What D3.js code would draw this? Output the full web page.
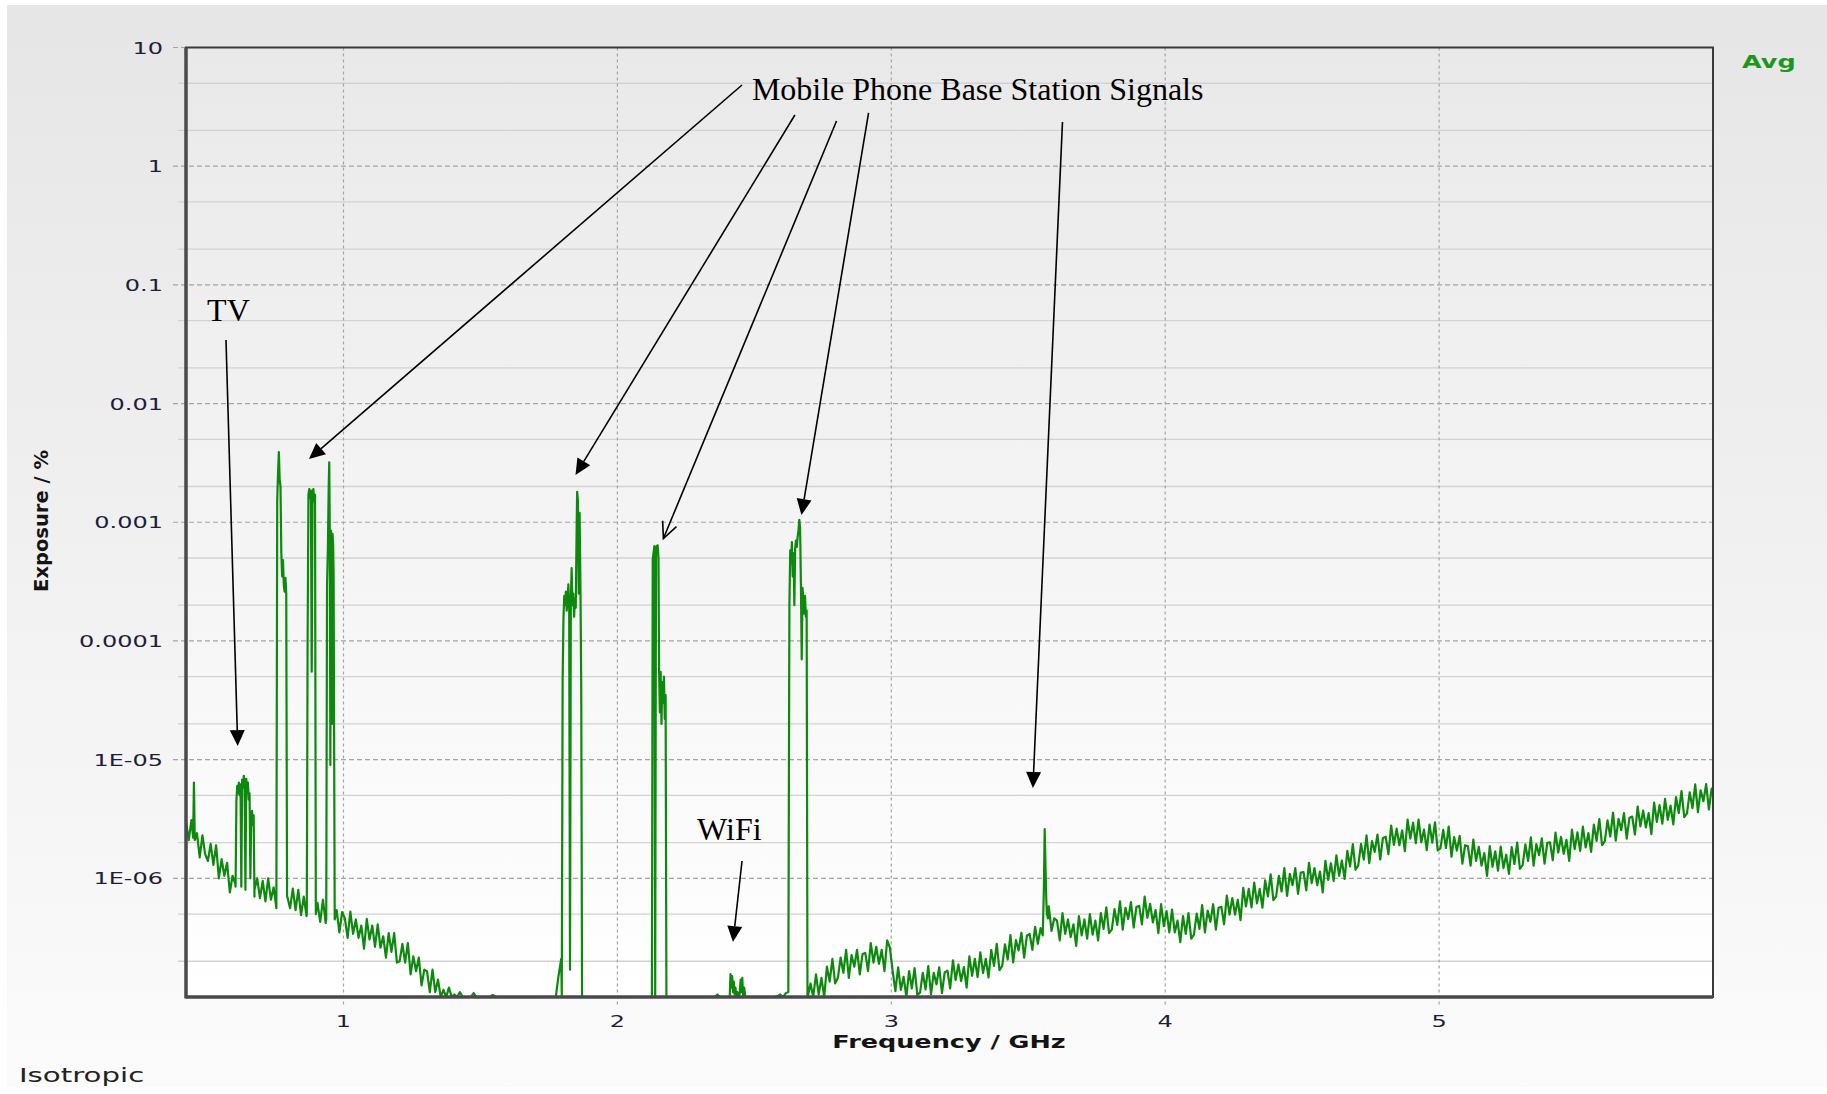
<!DOCTYPE html>
<meta charset="utf-8">
<head>
    <style>
        body { margin: 0; background-color: #ffffff; }
        svg { display: block; }
        .tick-label { font-family: "DejaVu Sans", Verdana, sans-serif; font-size: 16px; fill: #1f1d3a; }
        .axis-title { font-family: "DejaVu Sans", Verdana, sans-serif; font-weight: bold; fill: #141414; }
        .note { font-family: "Liberation Serif", "Times New Roman", serif; font-size: 32px; fill: #000; }
    </style>
    <script src="https://d3js.org/d3.v7.min.js"></script>
</head>
<body>
<div id="chart"></div>
<script>
// meter sweep: start / step in GHz, one averaged reading per step (exposure in %)
var sweepStartGHz = 0.425,
    sweepStepGHz = 0.01;

var sweepExposure = [
    3.0e-6, 2.1e-6, 3.1e-6, 2.0e-6, 2.4e-6, 1.5e-6, 2.3e-6, 1.6e-6,
    1.4e-6, 1.95e-6, 1.3e-6, 1.9e-6, 1.0e-6, 1.45e-6, 1.05e-6, 1.35e-6, 7.6e-7, 1.05e-6,
    9.0e-7, 8e-7, 8e-7, 8e-7, 8e-7, 8e-7, 8e-7, 7.0e-7, 1.0e-6, 6.8e-7,
    9.5e-7, 6.4e-7, 1.0e-6, 6.6e-7, 8.4e-7, 5.6e-7, 7e-7, 7e-7, 7e-7, 7e-7,
    5.6e-7, 8.2e-7, 5.4e-7, 8.0e-7, 4.9e-7, 7.0e-7, 4.8e-7, 5.5e-7, 5.5e-7, 5.5e-7,
    6.2e-7, 4.3e-7, 6.6e-7, 4.2e-7, 4.5e-7, 4.5e-7, 4.5e-7, 5.4e-7, 3.5e-7, 5.2e-7,
    4.6e-7, 3.15e-7, 5.25e-7, 3.4e-7, 4.5e-7, 3.15e-7, 4.0e-7, 2.55e-7, 4.55e-7, 3.05e-7,
    4.0e-7, 2.65e-7, 4.1e-7, 2.6e-7, 3.25e-7, 2.15e-7, 3.45e-7, 2.4e-7, 3.45e-7, 1.95e-7,
    2.0e-7, 2.8e-7, 1.95e-7, 2.85e-7, 1.55e-7, 2.2e-7, 1.65e-7, 2.15e-7, 1.25e-7, 1.7e-7,
    1.65e-7, 1.1e-7, 1.7e-7, 1.1e-7, 1.4e-7, 9.3e-8, 1.15e-7, 7e-8, 1.2e-7, 8e-8,
    1.05e-7, 8e-8, 1.1e-7, 8e-8, 9e-8, 8e-8, 8e-8, 1.08e-7, 8e-8, 8e-8,
    8e-8, 8e-8, 8e-8, 8e-8, 1.04e-7, 8e-8, 8e-8, 8e-8, 8e-8, 8e-8,
    8e-8, 8e-8, 8e-8, 8e-8, 8e-8, 8e-8, 8e-8, 8e-8, 8e-8, 8e-8,
    8e-8, 8e-8, 8e-8, 8e-8, 8e-8, 8e-8, 8e-8, 8e-8, 1.5e-7, 2.1e-7,
    8e-8, 8e-8, 8e-8, 8e-8, 8e-8, 8e-8, 8e-8, 8e-8, 8e-8, 8e-8,
    8e-8, 8e-8, 8e-8, 8e-8, 8e-8, 8e-8, 8e-8, 8e-8, 8e-8, 8e-8,
    8e-8, 8e-8, 8e-8, 8e-8, 8e-8, 8e-8, 8e-8, 8e-8, 8e-8, 8e-8,
    8e-8, 8e-8, 8e-8, 8e-8, 8e-8, 8e-8, 8e-8, 8e-8, 8e-8, 8e-8,
    8e-8, 8e-8, 8e-8, 8e-8, 8e-8, 8e-8, 8e-8, 8e-8, 8e-8, 8e-8,
    8e-8, 8e-8, 8e-8, 8e-8, 8e-8, 8e-8, 1.05e-7, 8e-8, 8e-8, 8e-8,
    8e-8, 8e-8, 8e-8, 8e-8, 8e-8, 8e-8, 8e-8, 8e-8, 8e-8, 8e-8,
    8e-8, 8e-8, 8e-8, 8e-8, 8e-8, 8e-8, 8e-8, 8e-8, 1.02e-7, 1.05e-7,
    1.0e-7, 1.08e-7, 1.12e-7, 1.0e-7, 1.0e-7, 1.0e-7, 1.0e-7, 1.0e-7, 1.0e-7, 1.0e-7,
    1.3e-7, 9.5e-8, 1.55e-7, 1.05e-7, 1.45e-7, 1.0e-7, 1.8e-7, 1.35e-7, 2.1e-7, 1.3e-7,
    1.45e-7, 2.15e-7, 1.6e-7, 2.5e-7, 1.45e-7, 2.25e-7, 1.8e-7, 2.5e-7, 1.55e-7, 2.3e-7,
    2.35e-7, 1.65e-7, 2.85e-7, 1.95e-7, 2.65e-7, 1.9e-7, 2.5e-7, 1.65e-7, 3.0e-7, 2.6e-7,
    1.65e-7, 1.12e-7, 1.78e-7, 1.15e-7, 1.48e-7, 1.0e-7, 1.65e-7, 1.18e-7, 1.75e-7, 1.04e-7,
    1.09e-7, 1.6e-7, 1.16e-7, 1.82e-7, 1.05e-7, 1.6e-7, 1.28e-7, 1.78e-7, 1.08e-7, 1.61e-7,
    1.67e-7, 1.18e-7, 2.04e-7, 1.39e-7, 1.88e-7, 1.36e-7, 1.79e-7, 1.2e-7, 2.2e-7, 1.51e-7,
    2.1e-7, 1.47e-7, 2.38e-7, 1.59e-7, 2.1e-7, 1.46e-7, 2.49e-7, 1.83e-7, 2.8e-7, 1.68e-7,
    1.83e-7, 2.78e-7, 2.07e-7, 3.33e-7, 1.96e-7, 3.02e-7, 2.47e-7, 3.48e-7, 2.15e-7, 3.28e-7,
    3.4e-7, 2.5e-7, 3.9e-7, 2.8e-7, 3.8e-7, 3.3e-7, 3.3e-7, 5.8e-7, 3.6e-7, 4.6e-7,
    4.4e-7, 3.0e-7, 5.1e-7, 3.4e-7, 4.5e-7, 3.2e-7, 4.1e-7, 2.7e-7, 4.8e-7, 3.3e-7,
    4.5e-7, 3.1e-7, 5.0e-7, 3.35e-7, 4.4e-7, 3.0e-7, 5.1e-7, 3.75e-7, 5.7e-7, 3.45e-7,
    3.7e-7, 5.5e-7, 4.05e-7, 6.4e-7, 3.7e-7, 5.65e-7, 4.55e-7, 6.3e-7, 3.85e-7, 5.75e-7,
    5.85e-7, 4.1e-7, 7.0e-7, 4.65e-7, 6.1e-7, 4.25e-7, 5.4e-7, 3.45e-7, 6.05e-7, 3.95e-7,
    5.3e-7, 3.5e-7, 5.45e-7, 3.5e-7, 4.4e-7, 2.9e-7, 4.8e-7, 3.4e-7, 5.1e-7, 3.1e-7,
    3.35e-7, 5.05e-7, 3.75e-7, 5.95e-7, 3.5e-7, 5.35e-7, 4.3e-7, 6.05e-7, 3.7e-7, 5.65e-7,
    5.75e-7, 4.1e-7, 7.15e-7, 4.95e-7, 6.8e-7, 4.95e-7, 6.6e-7, 4.45e-7, 8.3e-7, 5.8e-7,
    8.15e-7, 5.7e-7, 9.2e-7, 6.15e-7, 8.15e-7, 5.65e-7, 9.6e-7, 7.05e-7, 1.08e-6, 6.55e-7,
    7.05e-7, 1.05e-6, 7.75e-7, 1.22e-6, 7.1e-7, 1.09e-6, 8.75e-7, 1.22e-6, 7.4e-7, 1.12e-6,
    1.13e-6, 7.9e-7, 1.35e-6, 9.1e-7, 1.22e-6, 8.75e-7, 1.14e-6, 7.6e-7, 1.4e-6, 9.7e-7,
    1.34e-6, 9.5e-7, 1.56e-6, 1.05e-6, 1.41e-6, 9.9e-7, 1.7e-6, 1.26e-6, 1.94e-6, 1.18e-6,
    1.29e-6, 1.95e-6, 1.44e-6, 2.3e-6, 1.34e-6, 2.06e-6, 1.67e-6, 2.34e-6, 1.44e-6, 2.19e-6,
    2.24e-6, 1.6e-6, 2.78e-6, 1.91e-6, 2.62e-6, 1.9e-6, 2.53e-6, 1.69e-6, 3.12e-6, 2.16e-6,
    2.94e-6, 1.98e-6, 3.12e-6, 2.01e-6, 2.57e-6, 1.73e-6, 2.84e-6, 2.0e-6, 2.96e-6, 1.72e-6,
    1.79e-6, 2.56e-6, 1.8e-6, 2.73e-6, 1.52e-6, 2.22e-6, 1.71e-6, 2.28e-6, 1.33e-6, 1.9e-6,
    1.86e-6, 1.28e-6, 2.12e-6, 1.4e-6, 1.84e-6, 1.28e-6, 1.63e-6, 1.05e-6, 1.87e-6, 1.25e-6,
    1.69e-6, 1.16e-6, 1.85e-6, 1.22e-6, 1.58e-6, 1.09e-6, 1.83e-6, 1.32e-6, 2.0e-6, 1.2e-6,
    1.29e-6, 1.93e-6, 1.4e-6, 2.21e-6, 1.28e-6, 1.94e-6, 1.57e-6, 2.17e-6, 1.33e-6, 1.99e-6,
    2.01e-6, 1.42e-6, 2.43e-6, 1.65e-6, 2.23e-6, 1.61e-6, 2.11e-6, 1.4e-6, 2.57e-6, 1.76e-6,
    2.44e-6, 1.7e-6, 2.73e-6, 1.82e-6, 2.4e-6, 1.67e-6, 2.83e-6, 2.07e-6, 3.16e-6, 1.9e-6,
    2.06e-6, 3.08e-6, 2.25e-6, 3.57e-6, 2.08e-6, 3.17e-6, 2.55e-6, 3.54e-6, 2.16e-6, 3.24e-6,
    3.31e-6, 2.34e-6, 4.02e-6, 2.74e-6, 3.72e-6, 2.69e-6, 3.54e-6, 2.36e-6, 4.34e-6, 2.99e-6,
    4.14e-6, 2.89e-6, 4.67e-6, 3.11e-6, 4.1e-6, 2.85e-6, 4.84e-6, 3.55e-6, 5.43e-6, 3.28e-6,
    3.53e-6, 5.3e-6, 3.9e-6, 6.19e-6, 3.61e-6, 5.52e-6, 4.46e-6, 6.21e-6, 3.8e-6, 5.69e-6,
    4.6e-6
];

// finer readings across the signal bands (GHz, %)
var tvSpikeFreq = [0.451, 0.454, 0.457];
var tvSpikeExposure = [2.2e-6, 6.4e-6, 2.1e-6];

var tvFreq = [0.606, 0.609, 0.612, 0.615, 0.618, 0.621, 0.624, 0.627, 0.630, 0.633, 0.636, 0.639,
    0.642, 0.645, 0.648, 0.651, 0.654, 0.657, 0.660, 0.663, 0.666, 0.669, 0.672, 0.675];
var tvExposure = [8.5e-7, 4.5e-6, 6.0e-6, 5.2e-6, 6.4e-6, 5.0e-6, 6.2e-6, 8.5e-7, 6.8e-6, 5.8e-6, 7.3e-6, 6.2e-6,
    8.0e-7, 6.9e-6, 5.6e-6, 6.4e-6, 4.6e-6, 5.2e-6, 1.0e-6, 3.2e-6, 3.7e-6, 2.8e-6, 3.4e-6, 8.0e-7];

var band800Freq = [0.755, 0.758, 0.761, 0.764, 0.767, 0.770, 0.773, 0.776, 0.779, 0.782, 0.785, 0.788, 0.791, 0.794];
var band800Exposure = [7.0e-7, 1.5e-3, 2.6e-3, 3.9e-3, 2.3e-3, 2.0e-3, 5.5e-4, 3.5e-4, 4.8e-4, 3.0e-4, 2.6e-4, 3.4e-4, 2.5e-4, 7.0e-7];

var band900aFreq = [0.866, 0.869, 0.872, 0.875, 0.878, 0.881, 0.884, 0.887, 0.890, 0.893, 0.896, 0.899];
var band900aExposure = [5.0e-7, 1.0e-4, 1.7e-3, 1.9e-3, 1.6e-3, 1.85e-3, 5.5e-5, 1.8e-3, 1.9e-3, 1.5e-3, 1.7e-3, 5.0e-7];

var band900bFreq = [0.937, 0.940, 0.943, 0.946, 0.948, 0.950, 0.952, 0.954, 0.956, 0.958, 0.960, 0.962, 0.964, 0.966, 0.968];
var band900bExposure = [4.5e-7, 3.0e-4, 6.0e-4, 2.0e-3, 3.2e-3, 8.0e-4, 9.0e-6, 8.5e-4, 7.5e-4, 2.0e-5, 8.0e-4, 6.5e-4, 3.5e-4, 1.0e-5, 4.5e-7];

var band1800Freq = [1.797, 1.800, 1.803, 1.806, 1.809, 1.812, 1.815, 1.818, 1.821, 1.824, 1.827, 1.830, 1.833,
    1.836, 1.839, 1.842, 1.845, 1.848, 1.851, 1.853, 1.856, 1.859, 1.862, 1.865, 1.868, 1.871];
var band1800Exposure = [8e-8, 4.5e-5, 1.5e-4, 2.4e-4, 2.0e-4, 2.6e-4, 1.8e-4, 2.2e-4, 3.0e-4, 1.9e-4, 1.7e-7, 2.2e-4, 4.1e-4,
    2.0e-4, 2.5e-4, 1.6e-4, 2.3e-4, 1.9e-4, 8.0e-4, 1.8e-3, 1.5e-3, 2.5e-4, 1.2e-3, 3.0e-4, 4.0e-5, 8e-8];

var band2100Freq = [2.126, 2.129, 2.132, 2.135, 2.138, 2.141, 2.144, 2.147, 2.150, 2.152, 2.155, 2.158,
    2.161, 2.164, 2.167, 2.170, 2.173, 2.176, 2.179];
var band2100Exposure = [8e-8, 4.9e-4, 5.5e-4, 6.3e-4, 9e-8, 6.0e-4, 6.3e-4, 6.4e-4, 5.0e-4, 6.0e-5, 2.5e-5, 5.5e-5,
    2.0e-5, 4.5e-5, 3.0e-5, 5.0e-5, 2.2e-5, 3.5e-5, 8e-8];

var wifiFreq = [2.405, 2.410, 2.413, 2.416, 2.419, 2.422, 2.425, 2.428, 2.431, 2.434, 2.438, 2.442,
    2.446, 2.450, 2.453, 2.456, 2.459, 2.463, 2.467];
var wifiExposure = [8e-8, 1.0e-7, 1.56e-7, 1.2e-7, 1.5e-7, 1.1e-7, 1.35e-7, 1.05e-7, 1.2e-7, 1.0e-7, 1.1e-7, 9e-8,
    1.05e-7, 1.4e-7, 1.1e-7, 1.45e-7, 1.0e-7, 1.2e-7, 8e-8];

var band2600Freq = [2.624, 2.628, 2.631, 2.634, 2.637, 2.640, 2.643, 2.646, 2.649, 2.652, 2.655, 2.658,
    2.661, 2.664, 2.667, 2.670, 2.673, 2.676, 2.679, 2.682, 2.685, 2.688, 2.691, 2.694];
var band2600Exposure = [1.1e-7, 2.0e-4, 5.8e-4, 4.5e-4, 6.8e-4, 3.5e-4, 5.5e-4, 2.0e-4, 6.0e-4, 7.0e-4, 6.2e-4, 7.5e-4,
    8.5e-4, 1.05e-3, 9.0e-4, 3.0e-4, 7.0e-5, 2.8e-4, 2.2e-4, 1.7e-4, 2.4e-4, 1.6e-4, 1.8e-4, 1.0e-7];

var band3500Freq = [3.553, 3.557, 3.560, 3.562, 3.564, 3.566, 3.568, 3.572];
var band3500Exposure = [3.3e-7, 8.0e-7, 2.6e-6, 1.6e-6, 1.0e-6, 6.5e-7, 5.0e-7, 4.6e-7];

var bands = [
    [tvSpikeFreq, tvSpikeExposure], [tvFreq, tvExposure], [band800Freq, band800Exposure],
    [band900aFreq, band900aExposure], [band900bFreq, band900bExposure], [band1800Freq, band1800Exposure],
    [band2100Freq, band2100Exposure], [wifiFreq, wifiExposure], [band2600Freq, band2600Exposure],
    [band3500Freq, band3500Exposure]
];

var yTickValues = [10, 1, 0.1, 0.01, 0.001, 0.0001, 1e-5, 1e-6];
var yTickLabels = ["10", "1", "0.1", "0.01", "0.001", "0.0001", "1E-05", "1E-06"];
var xTickValues = [1, 2, 3, 4, 5];
var xTickLabels = ["1", "2", "3", "4", "5"];

// annotations, placed in data units (GHz, %)
var noteTexts = ["Mobile Phone Base Station Signals", "TV", "WiFi"];
var noteAt = [[2.491, 3.61], [0.502, 0.0497], [2.291, 2.1e-6]];
var arrowFrom = [[2.455, 4.83], [2.648, 2.70], [2.800, 2.40], [2.917, 2.81], [3.625, 2.36], [0.571, 0.0343], [2.455, 1.40e-6]];
var arrowTo = [[0.874, 3.41e-3], [1.847, 2.50e-3], [2.168, 7.3e-4], [2.672, 1.15e-3], [3.517, 5.77e-6], [0.6138, 1.30e-5], [2.422, 2.90e-7]];
var arrowOpen = [false, false, true, false, false, false, false];

var W = 1827, H = 1094;
var margin = { top: 47.5, right: 114, bottom: 97, left: 186 };
var plotW = W - margin.left - margin.right,
    plotH = H - margin.top - margin.bottom;

var x = d3.scaleLinear().domain([0.425, 6]).range([margin.left, W - margin.right]);
var y = d3.scaleLog().domain([1e-7, 10]).range([H - margin.bottom, margin.top]).clamp(true);

var svg = d3.select("#chart").append("svg")
    .attr("width", W)
    .attr("height", H);

var defs = svg.append("defs");
function vGrad(id, top, bottom) {
    var g = defs.append("linearGradient").attr("id", id)
        .attr("x1", 0).attr("y1", 0).attr("x2", 0).attr("y2", 1);
    g.append("stop").attr("offset", "0%").attr("stop-color", top);
    g.append("stop").attr("offset", "100%").attr("stop-color", bottom);
}
vGrad("panelGrad", "#e6e6e6", "#fbfbfb");
vGrad("plotGrad", "#e9e9e9", "#ffffff");
defs.append("clipPath").attr("id", "plotClip").append("rect")
    .attr("x", margin.left).attr("y", margin.top).attr("width", plotW).attr("height", plotH);

svg.append("rect").attr("x", 7).attr("y", 5).attr("width", W - 7).attr("height", 1082)
    .attr("fill", "url(#panelGrad)");
svg.append("rect").attr("x", margin.left).attr("y", margin.top).attr("width", plotW).attr("height", plotH)
    .attr("fill", "url(#plotGrad)");

// minor grid at 2 and 5 of every decade
var minorTicks = y.ticks().filter(function (d) {
    var m = Math.round(d / Math.pow(10, Math.floor(Math.log10(d) + 1e-9)));
    return m == 2 || m == 5;
});
svg.append("g").selectAll("line").data(minorTicks).enter().append("line")
    .attr("x1", margin.left - 8).attr("x2", W - margin.right)
    .attr("y1", function (d) { return y(d); }).attr("y2", function (d) { return y(d); })
    .attr("stroke", "#d2d2d2").attr("stroke-width", 1.3);

svg.append("g").selectAll("line").data(yTickValues).enter().append("line")
    .attr("x1", margin.left - 13).attr("x2", W - margin.right)
    .attr("y1", function (d) { return y(d); }).attr("y2", function (d) { return y(d); })
    .attr("stroke", "#a4a4a4").attr("stroke-width", 1.2).attr("stroke-dasharray", "5,3");

svg.append("g").selectAll("line").data(xTickValues).enter().append("line")
    .attr("x1", function (d) { return x(d); }).attr("x2", function (d) { return x(d); })
    .attr("y1", margin.top).attr("y2", H - margin.bottom + 9)
    .attr("stroke", "#a4a4a4").attr("stroke-width", 1.2).attr("stroke-dasharray", "3,3");

// spectrum: sweep readings, replaced by the finer band readings where those exist
var points = sweepExposure.map(function (v, i) {
    return { f: +(sweepStartGHz + i * sweepStepGHz).toFixed(3), v: v };
}).filter(function (p) {
    return !bands.some(function (b) { return p.f > b[0][0] && p.f < b[0][b[0].length - 1]; });
});
bands.forEach(function (b) {
    b[0].forEach(function (f, i) { points.push({ f: f, v: b[1][i] }); });
});
points.sort(function (a, b) { return a.f - b.f; });

svg.append("path")
    .datum(points)
    .attr("clip-path", "url(#plotClip)")
    .attr("fill", "none")
    .attr("stroke", "#0d8a0d")
    .attr("stroke-width", 2.2)
    .attr("stroke-linejoin", "round")
    .attr("d", d3.line().x(function (d) { return x(d.f); }).y(function (d) { return y(d.v); }));

// frame
svg.append("rect").attr("x", margin.left).attr("y", margin.top).attr("width", plotW).attr("height", plotH)
    .attr("fill", "none").attr("stroke", "#3a3a3a").attr("stroke-width", 2);
svg.append("line").attr("x1", margin.left).attr("x2", margin.left)
    .attr("y1", margin.top).attr("y2", H - margin.bottom + 1.5)
    .attr("stroke", "#4a4a4a").attr("stroke-width", 3.5);
svg.append("line").attr("x1", margin.left).attr("x2", W - margin.right)
    .attr("y1", H - margin.bottom).attr("y2", H - margin.bottom)
    .attr("stroke", "#4a4a4a").attr("stroke-width", 3.5);

// stretched labels, as the meter software draws them
function label(txt, px, py, cls, size, sx, anchor) {
    return svg.append("text")
        .attr("class", cls)
        .attr("transform", "translate(" + px + "," + py + ") scale(" + sx + ",1)")
        .attr("text-anchor", anchor)
        .style("font-size", size + "px")
        .text(txt);
}

yTickValues.forEach(function (d, i) {
    label(yTickLabels[i], margin.left - 23, y(d) + 6, "tick-label", 16, 1.5, "end");
});
xTickValues.forEach(function (d, i) {
    label(xTickLabels[i], x(d), H - margin.bottom + 30, "tick-label", 16, 1.5, "middle");
});

label("Frequency / GHz", 949, 1048, "axis-title", 17, 1.5, "middle");
svg.append("text")
    .attr("class", "axis-title")
    .attr("transform", "translate(48,521) rotate(-90)")
    .attr("text-anchor", "middle")
    .style("font-size", "19.5px")
    .text("Exposure / %");

label("Avg", 1742, 68, "axis-title", 17, 1.5, "start").style("fill", "#1d961d");
label("Isotropic", 19, 1082, "tick-label", 19.5, 1.5, "start").style("fill", "#222");

// annotations
noteTexts.forEach(function (t, i) {
    svg.append("text").attr("class", "note")
        .attr("x", x(noteAt[i][0])).attr("y", y(noteAt[i][1]))
        .text(t);
});

var arrows = svg.append("g");
arrowFrom.forEach(function (a, i) {
    var x0 = x(a[0]), y0 = y(a[1]),
        x1 = x(arrowTo[i][0]), y1 = y(arrowTo[i][1]);
    var dx = x1 - x0, dy = y1 - y0, len = Math.sqrt(dx * dx + dy * dy),
        ux = dx / len, uy = dy / len, hl = 16, hw = 7.5;
    var bx = x1 - ux * hl, by = y1 - uy * hl;
    var p1 = [bx - uy * hw, by + ux * hw], p2 = [bx + uy * hw, by - ux * hw];

    arrows.append("line")
        .attr("x1", x0).attr("y1", y0)
        .attr("x2", arrowOpen[i] ? x1 : bx).attr("y2", arrowOpen[i] ? y1 : by)
        .attr("stroke", "#000").attr("stroke-width", 1.6);

    if (arrowOpen[i]) {
        arrows.append("path")
            .attr("d", "M" + p1 + "L" + [x1, y1] + "L" + p2)
            .attr("fill", "none").attr("stroke", "#000").attr("stroke-width", 1.6);
    } else {
        arrows.append("path")
            .attr("d", "M" + p1 + "L" + [x1, y1] + "L" + p2 + "Z")
            .attr("fill", "#000");
    }
});
</script>
</body>
